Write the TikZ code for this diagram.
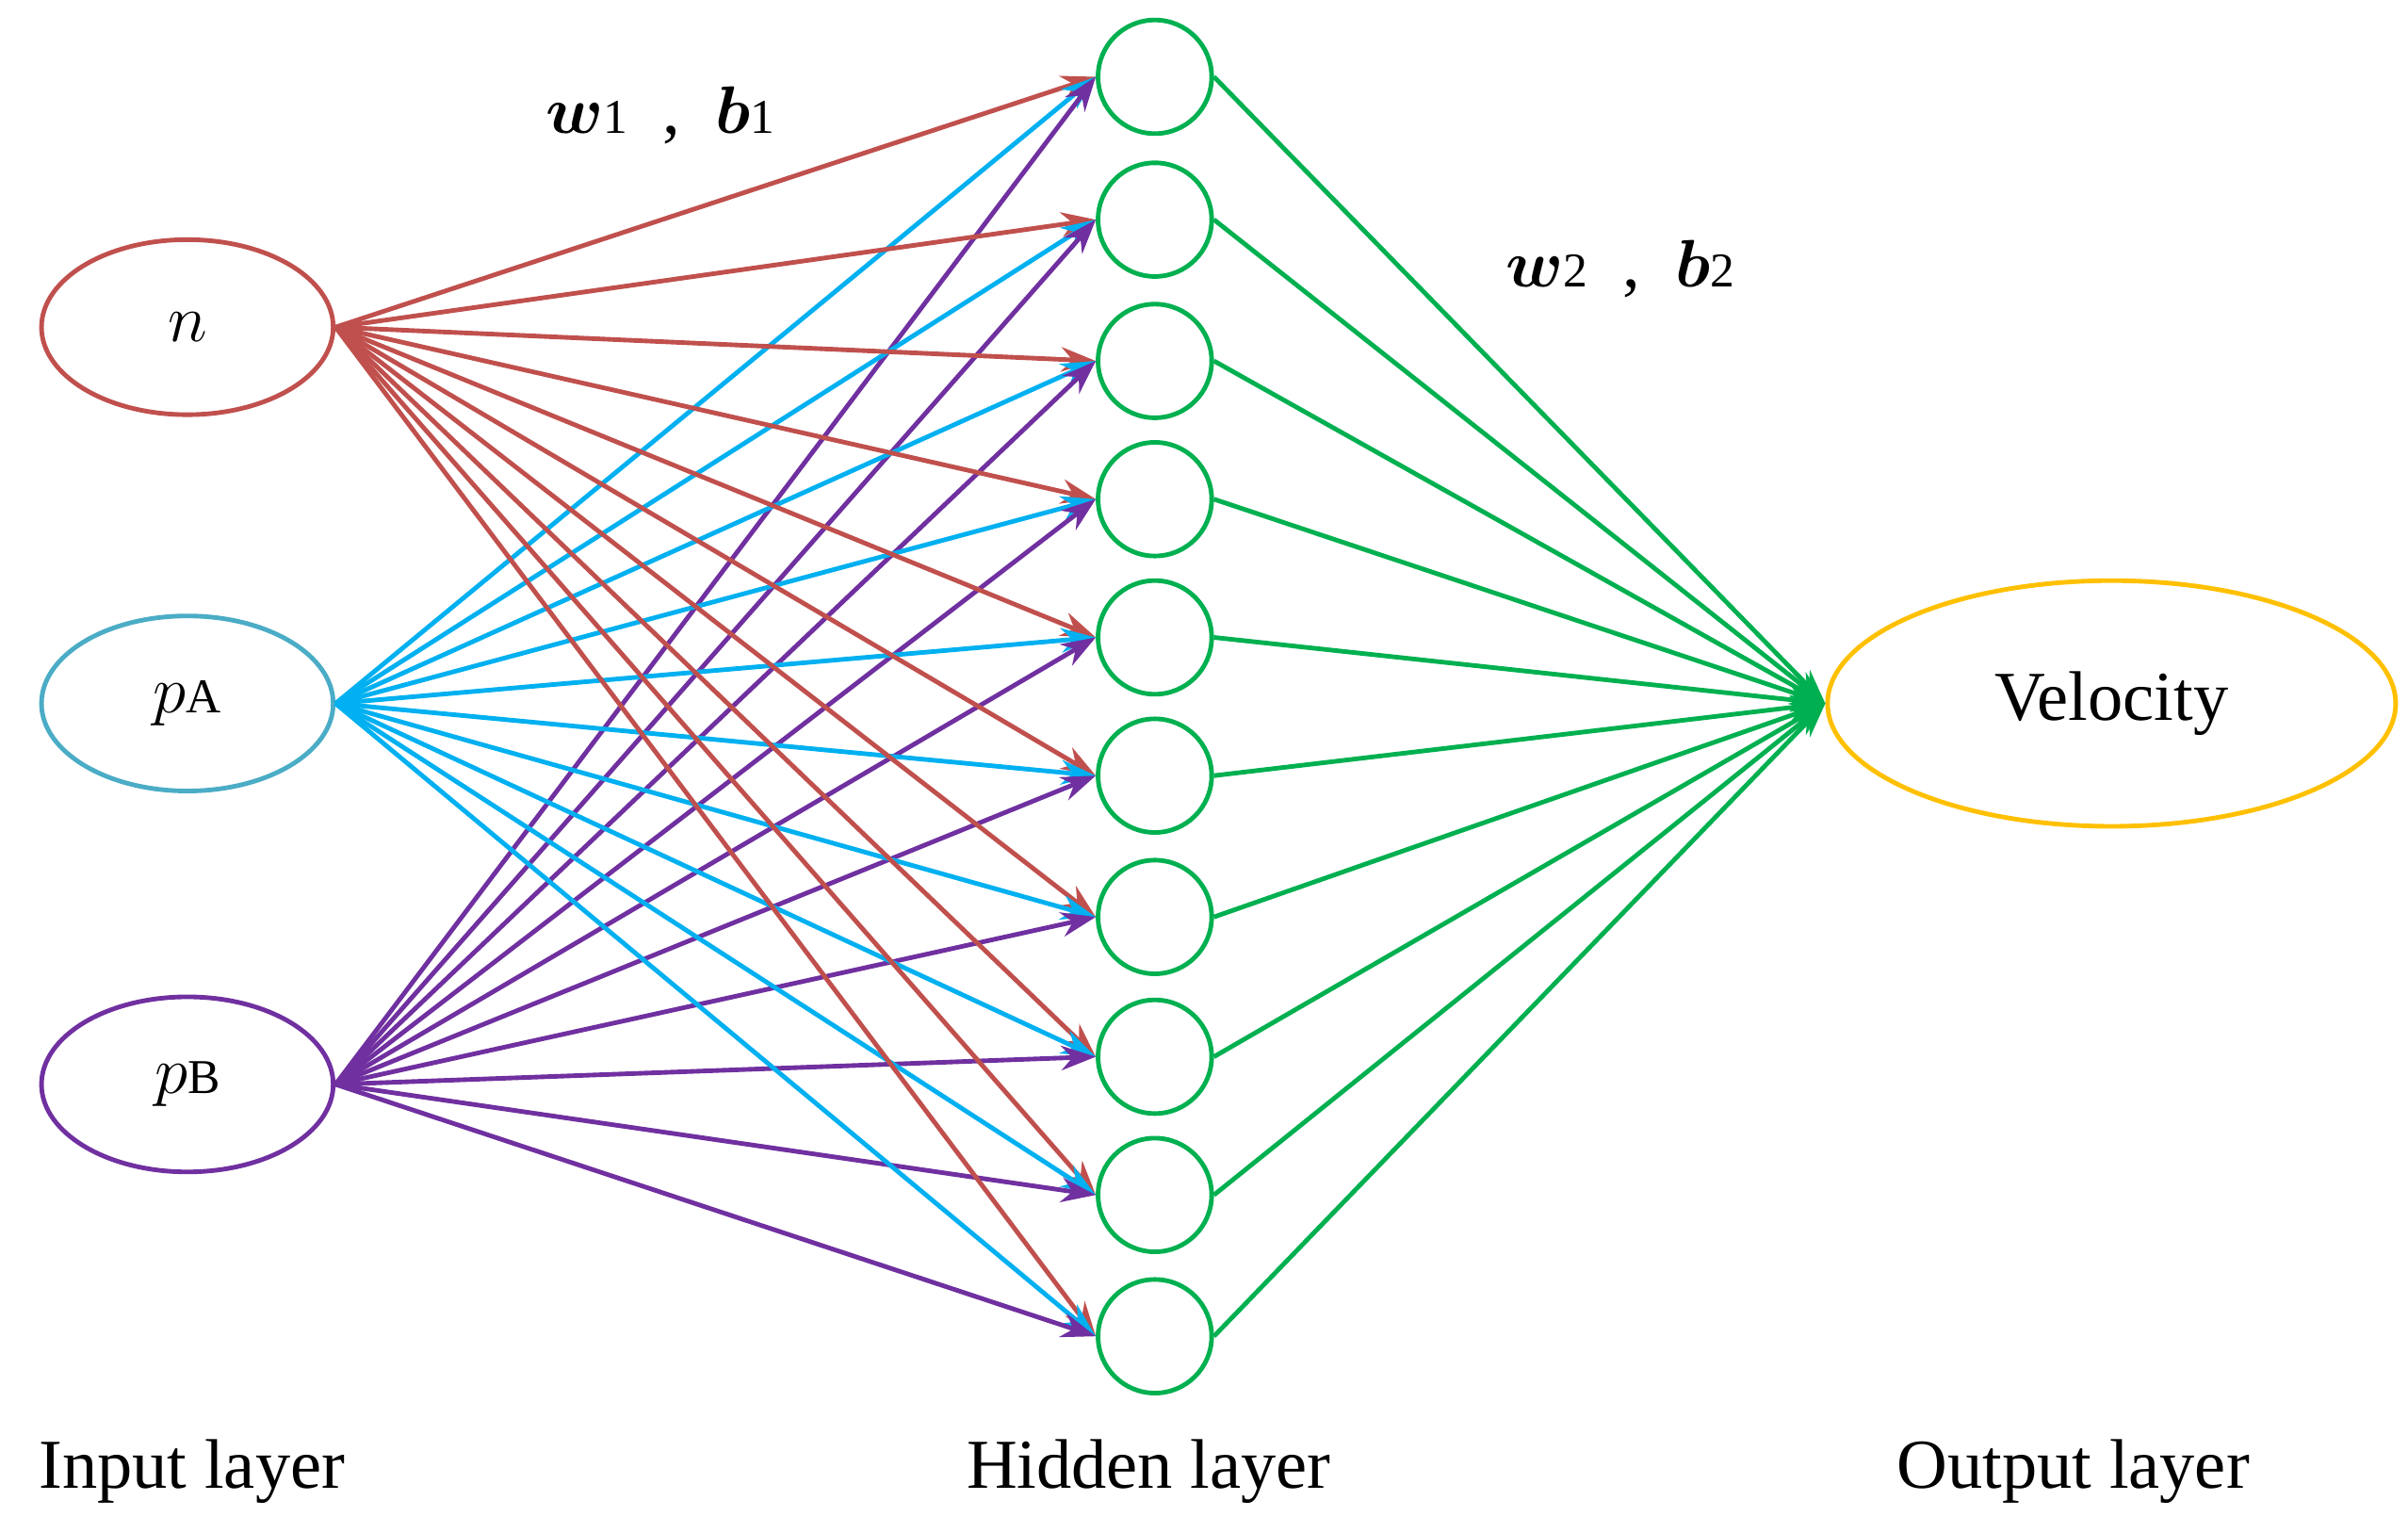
\documentclass[tikz,border=0pt]{standalone}
\usepackage{bm}
\usepackage{fontspec}
\setmainfont{Liberation Serif}
\usetikzlibrary{arrows.meta,shapes.geometric}
\definecolor{cr}{HTML}{C0504D}
\definecolor{cb}{HTML}{00B0F0}
\definecolor{cbe}{HTML}{4BACC6}
\definecolor{cp}{HTML}{7030A0}
\definecolor{cg}{HTML}{00B050}
\definecolor{cy}{HTML}{FFC000}
\begin{document}
\begin{tikzpicture}[x=0.02cm,y=-0.02cm,
  ln/.style={line width=1.7pt,-{Stealth[length=4.5mm,width=3.2mm]}},
  lab/.style={font=\fontsize{26}{30}\selectfont},
  hid/.style={circle,draw=cg,line width=1.7pt,minimum size=1.48cm,inner sep=0pt}]
\useasboundingbox (0,0) rectangle (1568,998);
\node[ellipse,draw=cr,line width=1.7pt,minimum width=3.8cm,minimum height=2.28cm,lab] (n) at (122,213) {$n$};
\node[ellipse,draw=cbe,line width=1.7pt,minimum width=3.8cm,minimum height=2.28cm,lab] (pa) at (122,458) {$p$\raisebox{0pt}{\fontsize{18}{20}\selectfont A}};
\node[ellipse,draw=cp,line width=1.7pt,minimum width=3.8cm,minimum height=2.28cm,lab] (pb) at (122,706) {$p$\raisebox{0pt}{\fontsize{18}{20}\selectfont B}};
\node[ellipse,draw=cy,line width=1.7pt,minimum width=7.4cm,minimum height=3.2cm,lab] (out) at (1375,458) {Velocity};
\foreach \i/\y in {1/50,2/143,3/235,4/325,5/415,6/505,7/597,8/688,9/778,10/870}{
  \node[hid] (h\i) at (752,\y) {};
}
\foreach \i in {1,...,10}{
  \draw[ln,cr] (n.east) -- (h\i.west);
  \draw[ln,cb] (pa.east) -- (h\i.west);
  \draw[ln,cp] (pb.east) -- (h\i.west);
  \draw[ln,cg] (h\i.east) -- (out.west);
}
\node[lab] (l1) at (430,75) {$\bm{w}$\raisebox{0pt}{\fontsize{18}{20}\selectfont 1}\ \ ,\ \ $\bm{b}$\raisebox{0pt}{\fontsize{18}{20}\selectfont 1}};
\node[lab] (l2) at (1055,175) {$\bm{w}$\raisebox{0pt}{\fontsize{18}{20}\selectfont 2}\ \ ,\ \ $\bm{b}$\raisebox{0pt}{\fontsize{18}{20}\selectfont 2}};
\node[lab] (t1) at (125,958) {Input layer};
\node[lab] (t2) at (748,958) {Hidden layer};
\node[lab] (t3) at (1350,958) {Output layer};
\end{tikzpicture}
\end{document}
